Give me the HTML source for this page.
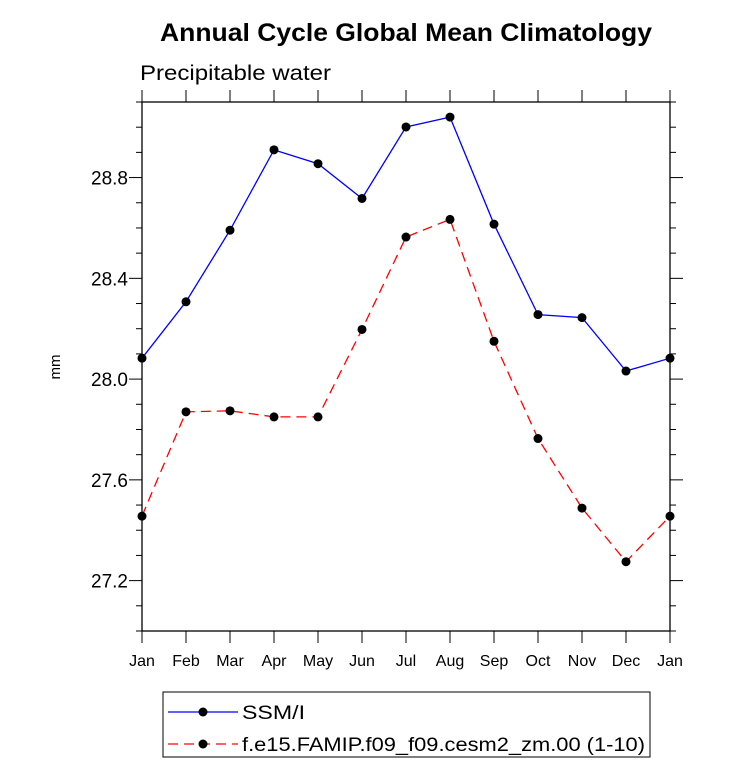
<!DOCTYPE html>
<html><head><meta charset="utf-8"><style>body{margin:0;background:#fff}svg{display:block;font-family:"Liberation Sans",Arial,sans-serif}</style></head>
<body>
<svg id="c" width="733" height="769">
<text x="160" y="41" textLength="492" lengthAdjust="spacingAndGlyphs" font-size="25" font-weight="bold">Annual Cycle Global Mean Climatology</text>
<text x="140" y="80" textLength="191" lengthAdjust="spacingAndGlyphs" font-size="21">Precipitable water</text>
<text transform="translate(60,367) rotate(-90)" text-anchor="middle" font-size="15">mm</text>
<g id="axes"></g>
<g id="series"></g>
<rect x="163" y="692" width="487" height="65" fill="none" stroke="#000" stroke-width="1"/>
<g>
<line x1="168" y1="712" x2="238" y2="712" stroke="#00f" stroke-width="1.3"/><circle cx="203" cy="712" r="4.5"/>
<text x="242" y="719" font-size="19" textLength="63" lengthAdjust="spacingAndGlyphs">SSM/I</text></g>
<g>
<line x1="168" y1="744" x2="238" y2="744" stroke="#f00" stroke-width="1.3" stroke-dasharray="10,6"/><circle cx="203" cy="744" r="4.5"/>
<text x="242" y="751" font-size="19" textLength="403" lengthAdjust="spacingAndGlyphs">f.e15.FAMIP.f09_f09.cesm2_zm.00 (1-10)</text></g>
</svg>
<script>
const months=["Jan","Feb","Mar","Apr","May","Jun","Jul","Aug","Sep","Oct","Nov","Dec","Jan"];
const ssmi=[28.083,28.307,28.591,28.910,28.855,28.717,29.001,29.040,28.615,28.256,28.244,28.032,28.083];
const model=[27.456,27.870,27.874,27.850,27.850,28.197,28.564,28.634,28.150,27.764,27.488,27.275,27.456];
const yTicks=[27.2,27.6,28.0,28.4,28.8];
const L=142,R=670,T=102,B=631,ymin=27.0,ymax=29.1;
const xs=i=>L+i*(R-L)/12;
const ys=v=>B-(v-ymin)/(ymax-ymin)*(B-T);
const NS="http://www.w3.org/2000/svg";
function mk(t,a,p){const e=document.createElementNS(NS,t);for(const k in a)e.setAttribute(k,a[k]);p.appendChild(e);return e;}
const ax=document.getElementById('axes');
const fr=mk('rect',{x:L,y:T,width:R-L,height:B-T,fill:'none',stroke:'#000','stroke-width':1.3},ax);


months.forEach((m,i)=>{const x=xs(i);
mk('line',{x1:x,y1:B,x2:x,y2:B+12,stroke:'#000'},ax);
mk('line',{x1:x,y1:T,x2:x,y2:T-12,stroke:'#000'},ax);
const t=mk('text',{x:x,y:B+35,'text-anchor':'middle','font-size':16},ax);t.textContent=m;

});
for(let k=0;k<=21;k++){const v=ymin+k*0.1,y=ys(v);const maj=yTicks.some(t=>Math.abs(t-v)<1e-6);const len=maj?13:6;
mk('line',{x1:L,y1:y,x2:L-len,y2:y,stroke:'#000'},ax);mk('line',{x1:R,y1:y,x2:R+len,y2:y,stroke:'#000'},ax);}
yTicks.forEach(v=>{const t=mk('text',{x:L-14,y:ys(v)+7,'text-anchor':'end','font-size':19},ax);t.textContent=v.toFixed(1);

});
const sg=document.getElementById('series');
function draw(d,col,dash,name){const g=mk('g',{},sg);


mk('polyline',{points:d.map((v,i)=>xs(i)+','+ys(v)).join(' '),fill:'none',stroke:col,'stroke-width':1.3,'stroke-dasharray':dash},g);
d.forEach((v,i)=>{const c=mk('circle',{cx:xs(i),cy:ys(v),r:4.5},g);

});}
draw(ssmi,'#00f','none','ssmi-line');
draw(model,'#f00','10,6','model-line');
</script>
</body></html>
